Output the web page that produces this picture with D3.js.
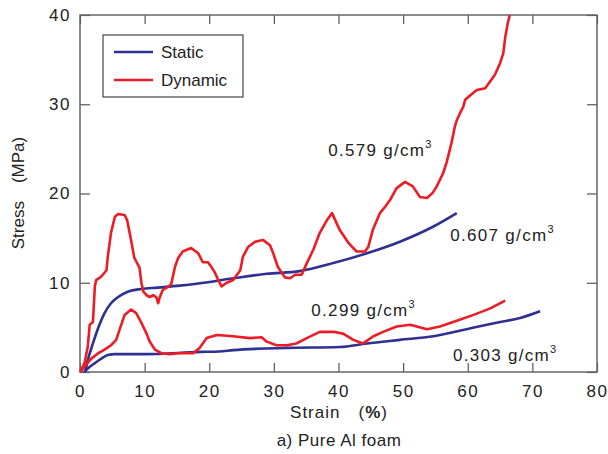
<!DOCTYPE html>
<html>
<head>
<meta charset="utf-8">
<script src="https://cdn.jsdelivr.net/npm/d3@7"></script>
<style>
  body { margin: 0; background: #fff; }
  text { font-family: "Liberation Sans", Arial, sans-serif; fill: #222; }
</style>
</head>
<body>
<script>
var width = 608,
    height = 454;

var margin = {top: 15, right: 11, bottom: 82, left: 80};

// strain (%) / stress (MPa)
var dyn579 = [[0,0],[0.7,1.0],[1.2,2.8],[1.5,5.3],[2.0,5.6],[2.3,9.6],[2.5,10.3],[3.3,10.7],[4.1,11.4],
  [4.3,12.9],[4.8,15.6],[5.4,17.4],[5.9,17.7],[6.9,17.6],[7.3,17.0],[7.9,14.8],[8.4,12.8],[9.2,11.7],
  [9.5,10.0],[9.8,9.0],[10.3,8.6],[10.8,8.4],[11.3,8.6],[11.8,8.4],[12.1,7.7],[12.3,8.3],[12.8,9.2],
  [13.3,9.4],[14.1,9.8],[14.7,11.8],[15.2,12.8],[15.9,13.5],[17.2,13.9],[18.3,13.3],[19.0,12.3],
  [19.8,12.3],[20.3,11.8],[20.9,11.1],[21.4,10.3],[21.9,9.6],[22.7,10.0],[23.7,10.3],[24.8,11.4],
  [25.2,12.9],[26.0,14.0],[27.1,14.6],[28.3,14.8],[29.4,14.2],[29.9,13.3],[30.6,11.8],[31.7,10.6],
  [32.5,10.5],[33.3,10.9],[34.3,10.9],[35.1,12.2],[36.1,13.7],[37.1,15.6],[38.2,17.0],[39.0,17.8],
  [40.2,15.9],[41.5,14.5],[42.8,13.5],[44.1,13.5],[44.6,14.0],[45.3,15.9],[46.4,17.8],[47.2,18.5],
  [48.0,19.3],[49.0,20.6],[50.3,21.3],[51.5,20.8],[52.6,19.6],[53.7,19.5],[54.6,20.1],[55.2,20.8],
  [56.2,22.3],[56.7,23.4],[57.5,25.7],[58.0,27.5],[58.3,28.2],[58.8,29.0],[59.3,29.7],[59.6,30.5],
  [60.4,31.0],[61.4,31.6],[62.7,31.8],[63.4,32.5],[64.2,33.3],[65.0,34.6],[65.5,35.7],[65.8,37.5],
  [66.2,39.1],[66.5,40.0]];

var stat607 = [[0.8,0],[1.2,1.3],[2.0,3.2],[2.8,4.9],[3.8,6.6],[4.8,7.7],[5.9,8.4],[7.4,9.0],[9.5,9.3],
  [12.0,9.45],[15.0,9.65],[18.6,9.95],[23.7,10.5],[28.9,11.0],[34.0,11.3],[39.2,12.2],[44.4,13.3],
  [49.5,14.6],[54.7,16.3],[58.3,17.8]];

var dyn299 = [[0,0],[1.75,1.5],[2.8,2.1],[3.8,2.5],[4.8,3.0],[5.6,3.6],[6.1,4.7],[6.9,6.4],[7.9,7.0],
  [8.7,6.6],[9.5,5.5],[10.3,4.3],[10.8,3.4],[11.6,2.5],[12.6,2.1],[13.9,2.0],[15.2,2.1],[17.5,2.1],
  [18.5,2.7],[19.6,3.8],[21.2,4.15],[23.7,4.0],[26.3,3.8],[28.1,3.9],[28.9,3.4],[30.4,3.0],[32.0,3.0],
  [33.5,3.2],[35.1,3.8],[37.1,4.5],[39.2,4.5],[40.7,4.3],[42.3,3.6],[43.8,3.2],[45.4,4.0],[46.9,4.5],
  [49.0,5.1],[51.1,5.3],[53.7,4.8],[55.7,5.1],[58.3,5.75],[60.9,6.4],[63.4,7.1],[65.8,8.0]];

var stat303 = [[0.6,0],[1.2,0.4],[2.3,1.0],[3.3,1.5],[4.3,1.9],[5.4,2.0],[10.0,2.0],[18.6,2.25],
  [21.5,2.3],[23.7,2.45],[32.0,2.7],[40.2,2.8],[44.4,3.2],[49.5,3.6],[54.7,4.0],[59.8,4.8],
  [65.0,5.6],[68.1,6.05],[71.2,6.8]];

var xTicks = [0, 10, 20, 30, 40, 50, 60, 70, 80];
var yTicks = [0, 10, 20, 30, 40];

var blue = "#2e3192", red = "#ed1c24";

var svg = d3.select("body").append("svg")
    .attr("width", width)
    .attr("height", height);

var x = d3.scaleLinear().domain([0, 80]).range([margin.left, width - margin.right]);
var y = d3.scaleLinear().domain([0, 40]).range([height - margin.bottom, margin.top]);

var line = d3.line()
    .x(function(d) { return x(d[0]); })
    .y(function(d) { return y(d[1]); });

var smooth = d3.line()
    .curve(d3.curveMonotoneX)
    .x(function(d) { return x(d[0]); })
    .y(function(d) { return y(d[1]); });

// axes: ticks inside, mirrored on top and right
function styleAxis(g) {
  g.select(".domain").remove();
  g.selectAll(".tick line").attr("stroke", "#555").attr("stroke-width", 1.2);
  g.selectAll(".tick text").attr("font-size", "17px").attr("letter-spacing", "1.5px").attr("fill", "#222");
}

svg.append("g")
    .attr("transform", "translate(0," + y(0) + ")")
    .call(d3.axisBottom(x).tickValues(xTicks).tickSize(-9).tickPadding(13))
    .call(styleAxis);

svg.append("g")
    .attr("transform", "translate(0," + y(40) + ")")
    .call(d3.axisTop(x).tickValues(xTicks).tickSize(-9).tickFormat(""))
    .call(styleAxis);

svg.append("g")
    .attr("transform", "translate(" + x(0) + ",0)")
    .call(d3.axisLeft(y).tickValues(yTicks).tickSize(-10).tickPadding(9))
    .call(styleAxis);

svg.append("g")
    .attr("transform", "translate(" + x(80) + ",0)")
    .call(d3.axisRight(y).tickValues(yTicks).tickSize(-10).tickFormat(""))
    .call(styleAxis);

svg.append("rect")
    .attr("x", x(0)).attr("y", y(40))
    .attr("width", x(80) - x(0)).attr("height", y(0) - y(40))
    .attr("fill", "none").attr("stroke", "#666").attr("stroke-width", 1.5);

var series = [
  {data: stat607, color: blue, gen: smooth},
  {data: stat303, color: blue, gen: smooth},
  {data: dyn299, color: red, gen: line},
  {data: dyn579, color: red, gen: line}
];

svg.append("g").selectAll("path")
    .data(series)
    .enter().append("path")
    .attr("d", function(d) { return d.gen(d.data); })
    .attr("fill", "none")
    .attr("stroke", function(d) { return d.color; })
    .attr("stroke-width", 2.6)
    .attr("stroke-linejoin", "round");

// density labels
var labels = [
  {t: "0.579 g/cm", at: [38.4, 24.2]},
  {t: "0.607 g/cm", at: [57.3, 14.7]},
  {t: "0.299 g/cm", at: [35.8, 6.3]},
  {t: "0.303 g/cm", at: [57.7, 1.25]}
];

var lab = svg.append("g").selectAll("text")
    .data(labels)
    .enter().append("text")
    .attr("x", function(d) { return x(d.at[0]); })
    .attr("y", function(d) { return y(d.at[1]); })
    .attr("font-size", "17px")
    .attr("letter-spacing", "1.3px");
lab.append("tspan").text(function(d) { return d.t; });
lab.append("tspan").attr("dy", -8).attr("font-size", "11px").text("3");

// legend
var legend = svg.append("g");
legend.append("rect")
    .attr("x", 103).attr("y", 35).attr("width", 140).attr("height", 62)
    .attr("fill", "#fff").attr("stroke", "#444").attr("stroke-width", 1.2);

var leg = legend.selectAll("g.item")
    .data([{name: "Static", color: blue}, {name: "Dynamic", color: red}])
    .enter().append("g")
    .attr("transform", function(d, i) { return "translate(0," + (52 + i * 28) + ")"; });
leg.append("line")
    .attr("x1", 114).attr("x2", 153)
    .attr("stroke", function(d) { return d.color; })
    .attr("stroke-width", 2.6);
leg.append("text")
    .attr("x", 161).attr("dy", "0.35em")
    .attr("font-size", "17px")
    .text(function(d) { return d.name; });

// axis titles
var xt = svg.append("text")
    .attr("x", 339).attr("y", 418)
    .attr("text-anchor", "middle")
    .attr("font-size", "17px")
    .attr("letter-spacing", "1px");
xt.append("tspan").text("Strain");
xt.append("tspan").attr("dx", 18).text("(");
xt.append("tspan").attr("font-weight", "bold").text("%");
xt.append("tspan").text(")");

var yt = svg.append("text")
    .attr("transform", "translate(24,193) rotate(-90)")
    .attr("text-anchor", "middle")
    .attr("font-size", "17px");
yt.append("tspan").text("Stress");
yt.append("tspan").attr("dx", 18).text("(MPa)");

svg.append("text")
    .attr("x", 339).attr("y", 446)
    .attr("text-anchor", "middle")
    .attr("font-size", "17px")
    .attr("letter-spacing", "0.5px")
    .text("a) Pure Al foam");
</script>
</body>
</html>
